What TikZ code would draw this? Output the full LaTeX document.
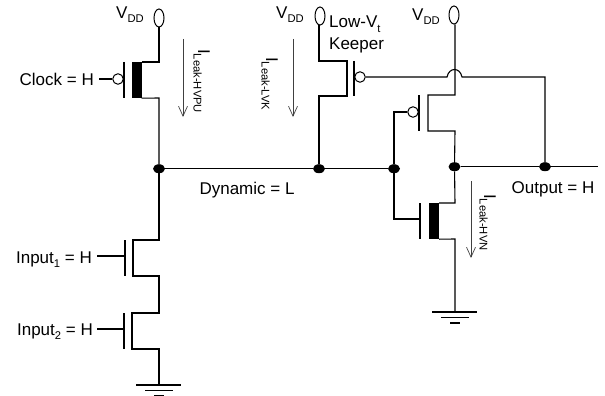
\documentclass[tikz,border=0pt]{standalone}
\usepackage{fontspec}
\setmainfont{Liberation Sans}
\usepackage{tikz}
\usetikzlibrary{shapes.geometric,arrows.meta}
\newcommand{\subtext}[1]{\raisebox{-4.5pt}{\fontsize{11.2}{11.2}\selectfont #1}}
\tikzset{
    wire/.style={line width=1.1pt},
    gatebar/.style={line width=1.1pt},
    gnd/.style={line width=1.7pt},
    rail/.style={draw,ellipse,inner sep=0pt,minimum width=10pt,minimum height=18pt,line width=1pt},
    joint/.style={fill,ellipse,inner sep=0pt,minimum width=12pt,minimum height=9pt},
    bubble/.style={draw,circle,inner sep=0pt,minimum size=10.5pt,line width=1pt},
    hvbar/.style={fill,inner sep=0pt,minimum width=10pt,minimum height=36pt},
    lbl/.style={font=\fontsize{17}{19}\selectfont,inner sep=0pt},
    leak/.style={lbl,rotate=-90,anchor=base west},
    current/.style={line width=0.7pt,draw=black!75,-{Straight Barb[length=10pt,width=9pt]}}
}
\begin{document}
\begin{tikzpicture}[x=1pt,y=-1pt]
    \useasboundingbox (0,0) rectangle (605,396);

    % supplies
    \node[rail] (vddA) at (159,18) {};
    \node[rail] (vddB) at (320,16) {};
    \node[rail] (vddC) at (454,15) {};
    \node[lbl,anchor=base west] (vddAl) at (116,18.5) {V\subtext{DD}};
    \node[lbl,anchor=base west] (vddBl) at (276,18.5) {V\subtext{DD}};
    \node[lbl,anchor=base west] (vddCl) at (412,20.5) {V\subtext{DD}};

    % junctions
    \node[joint] (dynA) at (159,168.7) {};
    \node[joint] (dynB) at (319,168.7) {};
    \node[joint] (dynC) at (394,168.7) {};
    \node[joint] (outA) at (454.5,166.7) {};
    \node[joint] (outB) at (545,166.7) {};
    \coordinate (outEnd) at (598,166.7);

    % clocked pull up
    \node[hvbar] (barPU) at (136.5,80) {};
    \node[bubble] (bubPU) at (118,79) {};
    \coordinate (gPUa) at (124,62);
    \coordinate (gPUb) at (124,98);
    \coordinate (inPU) at (99,79);
    \coordinate (puS) at (159,62);
    \coordinate (puD) at (159,98);
    \draw[wire] (vddA.south) -- (puS) -- (barPU.north east |- puS);
    \draw[wire] (barPU.south east) -- (puD) -- (dynA);
    \draw[gatebar] (gPUa) -- (gPUb);
    \draw[wire] (inPU) -- (bubPU);

    % input stack
    \coordinate (iAt) at (159,240);
    \coordinate (iAa) at (133,240);
    \coordinate (iAb) at (133,276);
    \coordinate (iAc) at (159,276);
    \coordinate (iBt) at (159,313);
    \coordinate (iBa) at (132,313);
    \coordinate (iBb) at (132,349);
    \coordinate (iBc) at (159,349);
    \coordinate (gndA) at (159,385);
    \draw[wire] (dynA) -- (iAt) -- (iAa) -- (iAb) -- (iAc) -- (iBt) -- (iBa) -- (iBb) -- (iBc) -- (gndA);
    \coordinate (gAa) at (125,240);
    \coordinate (gAb) at (125,276);
    \coordinate (gBa) at (124,313);
    \coordinate (gBb) at (124,349);
    \coordinate (inA) at (97,256);
    \coordinate (inAg) at (125,256);
    \coordinate (inB) at (97,329);
    \coordinate (inBg) at (124,329);
    \draw[gatebar] (gAa) -- (gAb);
    \draw[gatebar] (gBa) -- (gBb);
    \draw[wire] (inA) -- (inAg);
    \draw[wire] (inB) -- (inBg);

    % keeper
    \node[bubble] (bubK) at (360,77) {};
    \coordinate (kS) at (319,61);
    \coordinate (kSc) at (347,61);
    \coordinate (kDc) at (347,96);
    \coordinate (kD) at (319,96);
    \coordinate (gKa) at (354,61);
    \coordinate (gKb) at (354,96);
    \draw[wire] (vddB.south -| kS) -- (kS) -- (kSc) -- (kDc) -- (kD) -- (dynB);
    \draw[gatebar] (gKa) -- (gKb);
    \coordinate (hopA) at (447,77);
    \coordinate (hopB) at (462,77);
    \coordinate (fbT) at (545,77);
    \draw[wire] (bubK) -- (hopA) .. controls (449,67) and (460,67) .. (hopB) -- (fbT) -- (outB);

    % inverter
    \node[hvbar] (barN) at (434,221) {};
    \node[bubble] (bubP) at (413,112) {};
    \coordinate (pS) at (455,95);
    \coordinate (pSc) at (428,95);
    \coordinate (pDc) at (428,131);
    \coordinate (pD) at (455,131);
    \coordinate (gPa) at (419,95);
    \coordinate (gPb) at (419,131);
    \coordinate (gNa) at (420,203);
    \coordinate (gNb) at (420,239);
    \coordinate (nS) at (455,203);
    \coordinate (nD) at (455,239);
    \coordinate (gndB) at (455,312);
    \coordinate (pIn) at (394,112);
    \coordinate (nIn) at (394,219);
    \coordinate (nG) at (420,219);
    \draw[wire] (vddC.south -| pS) -- (pS) -- (pSc) -- (pDc) -- (pD) -- (outA);
    \draw[wire] (outA) -- (nS) -- (barN.north east |- nS);
    \draw[wire] (barN.south east) -- (nD) -- (gndB);
    \draw[gatebar] (gPa) -- (gPb);
    \draw[gatebar] (gNa) -- (gNb);
    \draw[wire] (bubP) -- (pIn) -- (dynC) -- (nIn) -- (nG);

    % dynamic and output nodes
    \draw[wire] (dynA) -- (dynB) -- (dynC);
    \draw[wire] (outA) -- (outB) -- (outEnd);

    % grounds
    \foreach \g/\gx/\gy in {A/159/385,B/455/312}{
        \coordinate (g\g a) at (\gx-23,\gy);
        \coordinate (g\g b) at (\gx+22,\gy);
        \coordinate (g\g c) at (\gx-14,\gy+5.5);
        \coordinate (g\g d) at (\gx+14,\gy+5.5);
        \coordinate (g\g e) at (\gx-5,\gy+11);
        \coordinate (g\g f) at (\gx+5,\gy+11);
        \draw[gnd] (g\g a) -- (g\g b);
        \draw[gnd] (g\g c) -- (g\g d);
        \draw[gnd] (g\g e) -- (g\g f);
    }

    % leakage currents
    \coordinate (iHa) at (183,39);
    \coordinate (iHb) at (183,117);
    \coordinate (iKa) at (293,39);
    \coordinate (iKb) at (293,117);
    \coordinate (iNa) at (471,181);
    \coordinate (iNb) at (471,258);
    \draw[current] (iHa) -- (iHb);
    \draw[current] (iKa) -- (iKb);
    \draw[current] (iNa) -- (iNb);
    \node[leak] (leakH) at (198,49) {I\subtext{Leak-HVPU}};
    \node[leak] (leakK) at (266,57) {I\subtext{Leak-LVK}};
    \node[leak] (leakN) at (484,194) {I\subtext{Leak-HVN}};

    % labels
    \node[lbl,anchor=base east] (clk) at (94,85) {Clock = H};
    \node[lbl,anchor=base east] (inputA) at (92,263) {Input\subtext{1} = H};
    \node[lbl,anchor=base east] (inputB) at (93,335) {Input\subtext{2} = H};
    \node[lbl,anchor=base] (dyn) at (247,194) {Dynamic = L};
    \node[lbl,anchor=base] (out) at (553,193) {Output = H};
    \node[lbl,anchor=base west] (lowvt) at (329,28) {Low-V\subtext{t}};
    \node[lbl,anchor=base west] (keeper) at (329,49) {Keeper};
\end{tikzpicture}
\end{document}
